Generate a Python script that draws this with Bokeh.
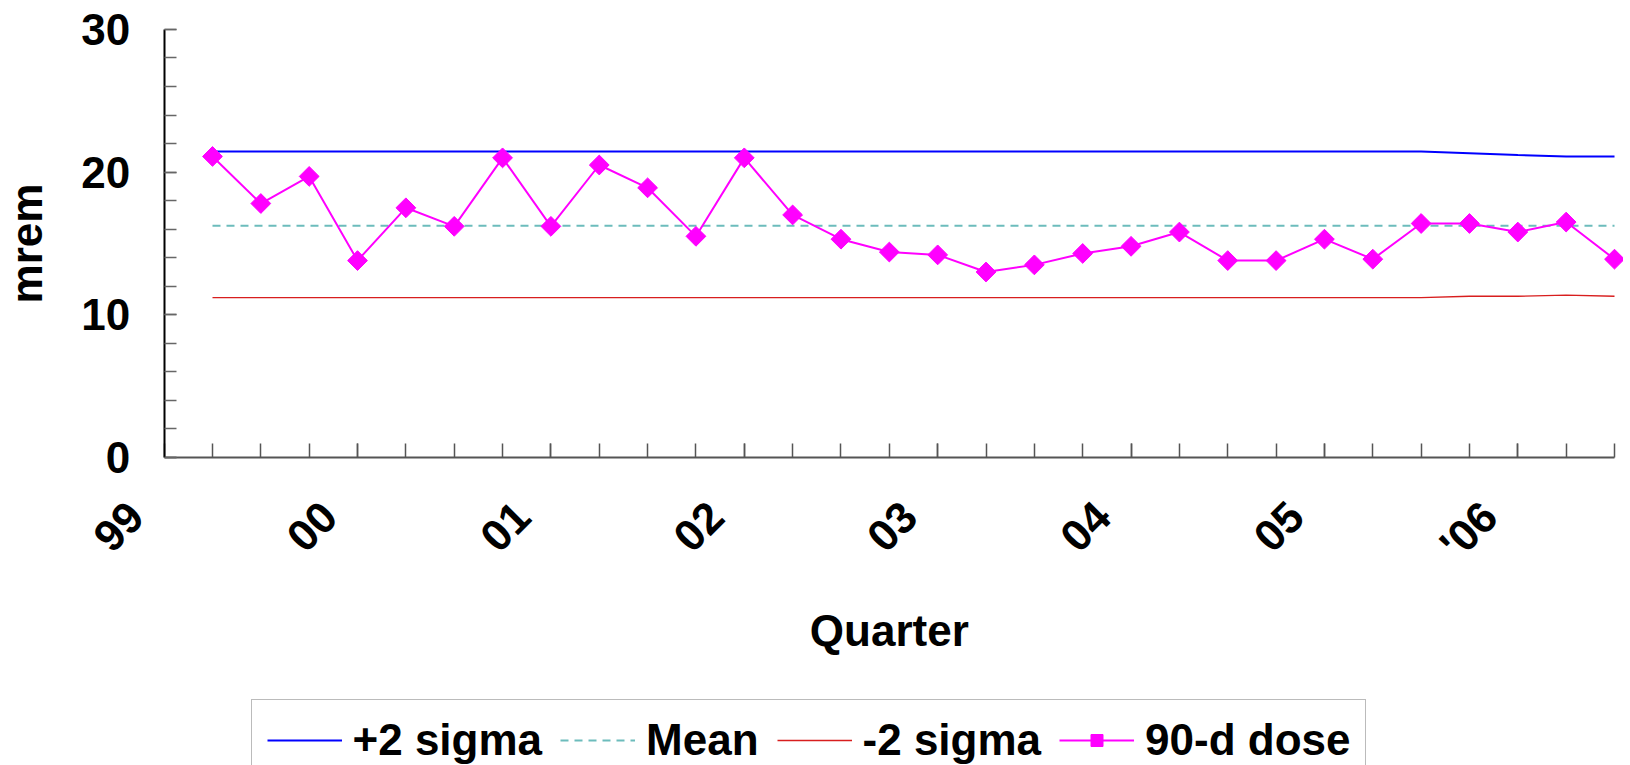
from math import pi
from bokeh.plotting import figure
from bokeh.models import Range1d, FixedTicker, Legend, LegendItem, Label
from bokeh.embed import file_html
from bokeh.resources import INLINE

# ---- data ----
quarter_index = [0, 1, 2, 3, 4, 5, 6, 7, 8, 9, 10, 11, 12, 13, 14,
                 15, 16, 17, 18, 19, 20, 21, 22, 23, 24, 25, 26, 27, 28, 29]
dose_90d = [21.1, 17.8, 19.7, 13.8, 17.5, 16.2, 21.0, 16.2, 20.5, 18.9,
            15.5, 21.0, 17.0, 15.3, 14.4, 14.2, 13.0, 13.5, 14.3, 14.8,
            15.8, 13.8, 13.8, 15.3, 13.9, 16.4, 16.4, 15.8, 16.5, 13.9]
plus_2sigma = [21.45, 21.45, 21.45, 21.45, 21.45, 21.45, 21.45, 21.45, 21.45, 21.45,
               21.45, 21.45, 21.45, 21.45, 21.45, 21.45, 21.45, 21.45, 21.45, 21.45,
               21.45, 21.45, 21.45, 21.45, 21.45, 21.45, 21.33, 21.2, 21.1, 21.1]
mean_dose = [16.25, 16.25, 16.25, 16.25, 16.25, 16.25, 16.25, 16.25, 16.25, 16.25,
             16.25, 16.25, 16.25, 16.25, 16.25, 16.25, 16.25, 16.25, 16.25, 16.25,
             16.25, 16.25, 16.25, 16.25, 16.25, 16.25, 16.25, 16.25, 16.25, 16.25]
minus_2sigma = [11.2, 11.2, 11.2, 11.2, 11.2, 11.2, 11.2, 11.2, 11.2, 11.2,
                11.2, 11.2, 11.2, 11.2, 11.2, 11.2, 11.2, 11.2, 11.2, 11.2,
                11.2, 11.2, 11.2, 11.2, 11.2, 11.2, 11.3, 11.3, 11.38, 11.3]
year_labels = ["99", "00", "01", "02", "03", "04", "05", "'06"]
y_major = [0, 10, 20, 30]
y_title = "mrem"
x_title = "Quarter"

FONT = "Liberation Sans"
FS = "44px"
PAD = "\u00a0\u00a0\u00a0\u200a"   # trailing non-collapsing space nudges rotated labels

x_lo, x_hi = quarter_index[0] - 1, quarter_index[-1]
label_pos = [x_lo + 4 * i for i in range(len(year_labels))]

# the frame fills the whole canvas; both axes are pinned inside it
p = figure(frame_width=1623, frame_height=765,
           x_range=Range1d(-4.385, 29.186), y_range=Range1d(-21.59, 32.03),
           output_backend="svg", toolbar_location=None,
           min_border_left=0, min_border_right=0,
           min_border_top=0, min_border_bottom=0)
p.outline_line_color = None
p.grid.visible = False
p.background_fill_color = "white"
p.border_fill_color = "white"

r_plus = p.line(quarter_index, plus_2sigma, line_color="#0000FF", line_width=2)
r_mean = p.line(quarter_index, mean_dose, line_color="#6cbcbc", line_width=2,
                line_dash="8 6")
r_minus = p.line(quarter_index, minus_2sigma, line_color="#d81e1e", line_width=1.3)
r_dose_l = p.line(quarter_index, dose_90d, line_color="#FF00FF", line_width=2)
r_dose_m = p.scatter(quarter_index, dose_90d, marker="square", size=14, angle=pi / 4,
                     fill_color="#FF00FF", line_color="#FF00FF")

# y axis at x = x_lo
ya = p.yaxis[0]
ya.fixed_location = x_lo
ya.ticker = FixedTicker(ticks=y_major, minor_ticks=list(range(0, 31, 2)))
ya.bounds = (y_major[0], y_major[-1])
ya.axis_line_color = "black"
ya.axis_line_width = 2
ya.major_tick_in = 12
ya.major_tick_out = 0
ya.minor_tick_in = 12
ya.minor_tick_out = 0
ya.major_tick_line_color = "#666666"
ya.minor_tick_line_color = "#666666"
ya.major_tick_line_width = 1.5
ya.minor_tick_line_width = 1.5
ya.major_label_standoff = 34
ya.major_label_text_font = FONT
ya.major_label_text_font_style = "bold"
ya.major_label_text_font_size = FS
ya.major_label_text_color = "black"

# x axis at y = 0
xa = p.xaxis[0]
xa.fixed_location = 0
xa.ticker = FixedTicker(ticks=label_pos, minor_ticks=quarter_index)
xa.major_label_overrides = {pos: lab + PAD for pos, lab in zip(label_pos, year_labels)}
xa.bounds = (x_lo, x_hi)
xa.axis_line_color = "#555555"
xa.axis_line_width = 2
xa.major_tick_in = 14
xa.major_tick_out = 0
xa.minor_tick_in = 14
xa.minor_tick_out = 0
xa.major_tick_line_color = "#555555"
xa.minor_tick_line_color = "#555555"
xa.major_tick_line_width = 1.5
xa.minor_tick_line_width = 1.5
xa.major_label_orientation = pi / 4
xa.major_label_standoff = 23
xa.major_label_text_font = FONT
xa.major_label_text_font_style = "bold"
xa.major_label_text_font_size = FS
xa.major_label_text_color = "black"

# axis titles
p.add_layout(Label(x=(x_lo + x_hi) / 2, y=0, y_offset=-173, text=x_title,
                   text_align="center", text_baseline="alphabetic",
                   text_font=FONT, text_font_style="bold", text_font_size=FS,
                   text_color="black"))
p.add_layout(Label(x=x_lo, y=(y_major[0] + y_major[-1]) / 2, x_offset=-138,
                   angle=pi / 2, text=y_title,
                   text_align="center", text_baseline="alphabetic",
                   text_font=FONT, text_font_style="bold", text_font_size=FS,
                   text_color="black"))

legend = Legend(items=[
    LegendItem(label="+2 sigma", renderers=[r_plus]),
    LegendItem(label="Mean", renderers=[r_mean]),
    LegendItem(label="-2 sigma", renderers=[r_minus]),
    LegendItem(label="90-d dose", renderers=[r_dose_l, r_dose_m]),
], orientation="horizontal", location=(250.5, -16), margin=0)
legend.glyph_width = 75
legend.glyph_height = 30
legend.label_standoff = 11
legend.spacing = 18
legend.padding = 15
legend.label_text_font = FONT
legend.label_text_font_style = "bold"
legend.label_text_font_size = FS
legend.label_text_color = "black"
legend.border_line_color = "#777777"
legend.border_line_width = 1.5
legend.background_fill_color = "white"
legend.background_fill_alpha = 1
p.add_layout(legend, "center")

open("out.html", "w").write(file_html(p, INLINE))
